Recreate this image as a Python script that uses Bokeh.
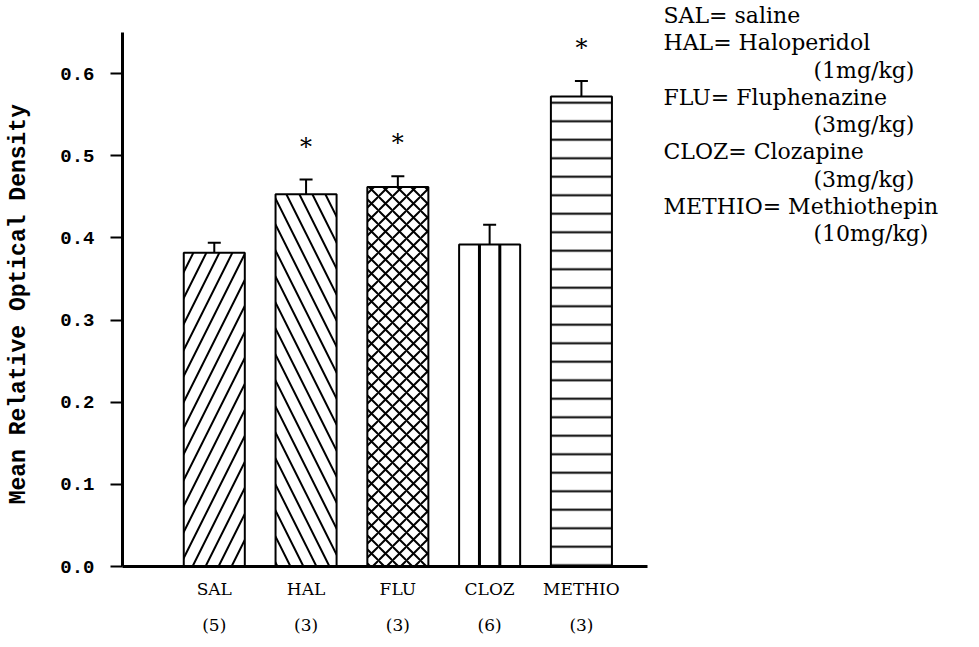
from bokeh.plotting import figure
from bokeh.models import (Range1d, LinearAxis, FixedTicker, PrintfTickFormatter,
                          ColumnDataSource)
from bokeh.core.properties import value
from bokeh.embed import file_html
from bokeh.resources import INLINE

# Treatment groups, group sizes and optical density (mean, SEM)
groups = ["SAL", "HAL", "FLU", "CLOZ", "METHIO"]
n_animals = ["(5)", "(3)", "(3)", "(6)", "(3)"]
means = [0.382, 0.453, 0.462, 0.392, 0.572]
sems = [0.012, 0.018, 0.013, 0.024, 0.019]
significance = ["", "*", "*", "", "*"]
y_ticks = [0.0, 0.1, 0.2, 0.3, 0.4, 0.5, 0.6]

legend_lines = ["SAL= saline", "HAL= Haloperidol", "(1mg/kg)",
                "FLU= Fluphenazine", "(3mg/kg)", "CLOZ= Clozapine", "(3mg/kg)",
                "METHIO= Methiothepin", "(10mg/kg)"]
legend_indent = [False, False, True, False, True, False, True, False, True]

# fill styles per bar
hatches = ["right_diagonal_line", "left_diagonal_line", "diagonal_cross", " ", "horizontal_line"]
hatch_scales = [26, 26, 14, 20, 18.5]

xs = list(range(len(groups)))
tops = [m + s for m, s in zip(means, sems)]
BAR_W = 0.665

# canvas / frame geometry (pixels); the frame runs to the right edge so the
# key can sit inside it, the axis lines are limited with bounds
W, H = 979, 647
LEFT, BOTTOM = 122, 566
AXIS_TOP, AXIS_RIGHT = 32, 647
XMIN, XAX = -1.0, 4.72          # x axis extent (data)
YMIN, YAX = 0.0, 0.65           # y axis extent (data)
PX_X = (AXIS_RIGHT - LEFT) / (XAX - XMIN)
PX_Y = (BOTTOM - AXIS_TOP) / (YAX - YMIN)
XMAX = XMIN + (W - LEFT) / PX_X
YMAX = YMIN + BOTTOM / PX_Y

def px_to_x(px):
    return XMIN + (px - LEFT) / PX_X

def px_to_y(py):
    return YMIN + (BOTTOM - py) / PX_Y

p = figure(width=W, height=H, x_range=Range1d(XMIN, XMAX), y_range=Range1d(YMIN, YMAX),
           output_backend="svg", toolbar_location=None, x_axis_location=None,
           min_border_left=LEFT, min_border_right=0,
           min_border_top=0, min_border_bottom=H - BOTTOM)
p.grid.visible = False
p.outline_line_color = None
p.background_fill_color = "white"
p.border_fill_color = "white"

src = ColumnDataSource(dict(x=xs, top=means, hatch=hatches, scale=hatch_scales))
p.vbar(x="x", top="top", width=BAR_W, source=src, fill_color="white",
       line_color="black", line_width=2, hatch_pattern="hatch",
       hatch_scale="scale", hatch_color="black", hatch_weight=2)

# CLOZ bar: two vertical rules dividing it in thirds
ci = groups.index("CLOZ")
p.segment(x0=[xs[ci] - BAR_W / 6, xs[ci] + BAR_W / 6], y0=[0, 0],
          x1=[xs[ci] - BAR_W / 6, xs[ci] + BAR_W / 6], y1=[means[ci]] * 2,
          line_color="black", line_width=3)

# upper error bars
p.segment(x0=xs, y0=means, x1=xs, y1=tops, line_color="black", line_width=2)
p.dash(x=xs, y=tops, size=13, line_color="black", line_width=2, angle=0)

# significance marks
p.text(x=xs, y=tops, text=significance, text_align="center",
       text_baseline="alphabetic", y_offset=-33,
       text_font=value("DejaVu Serif"), text_font_size="24px", text_color="black")

# y axis
ya = p.yaxis[0]
ya.bounds = (YMIN, YAX)
ya.ticker = FixedTicker(ticks=y_ticks)
ya.formatter = PrintfTickFormatter(format="%.1f")
ya.axis_line_width = 3
ya.axis_line_color = "black"
ya.major_tick_out = 12
ya.major_tick_in = 0
ya.major_tick_line_width = 2
ya.minor_tick_line_color = None
ya.major_label_standoff = 16
ya.major_label_text_font = "Liberation Mono"
ya.major_label_text_font_style = "bold"
ya.major_label_text_font_size = "19px"
ya.major_label_text_color = "black"
# trailing no-break spaces nudge the centred title down to sit beside the axis
ya.axis_label = "Mean Relative Optical Density" + "\u00a0" * 3
ya.axis_label_text_font = "Liberation Mono"
ya.axis_label_text_font_style = "bold"
ya.axis_label_text_font_size = "23px"
ya.axis_label_text_color = "black"
ya.axis_label_standoff = 25

# x axis: group names
xa = LinearAxis(ticker=FixedTicker(ticks=xs), bounds=(XMIN, XAX),
                major_label_overrides={i: g for i, g in zip(xs, groups)})
xa.axis_line_width = 3
xa.axis_line_color = "black"
xa.major_tick_line_color = None
xa.minor_tick_line_color = None
xa.major_tick_out = 0
xa.major_label_standoff = 12
xa.major_label_text_font = "DejaVu Serif"
xa.major_label_text_font_size = "17px"
xa.major_label_text_color = "black"
p.add_layout(xa, "below")

# second row: number of animals per group
na = LinearAxis(ticker=FixedTicker(ticks=xs), bounds=(XMIN, XAX),
                major_label_overrides={i: n for i, n in zip(xs, n_animals)})
na.axis_line_color = None
na.major_tick_line_color = None
na.minor_tick_line_color = None
na.major_tick_out = 0
na.major_tick_in = 0
na.major_label_standoff = 13
na.major_label_text_font = "DejaVu Serif"
na.major_label_text_font_size = "17px"
na.major_label_text_color = "black"
p.add_layout(na, "below")

# abbreviation key at the top right
key_x = [px_to_x(813 if ind else 663) for ind in legend_indent]
key_y = [px_to_y(15 + i * 27.25) for i in range(len(legend_lines))]
p.text(x=key_x, y=key_y, text=legend_lines, text_align="left",
       text_baseline="middle", text_font=value("DejaVu Serif"),
       text_font_size="22px", text_color="black")

open("out.html", "w").write(file_html(p, INLINE))
